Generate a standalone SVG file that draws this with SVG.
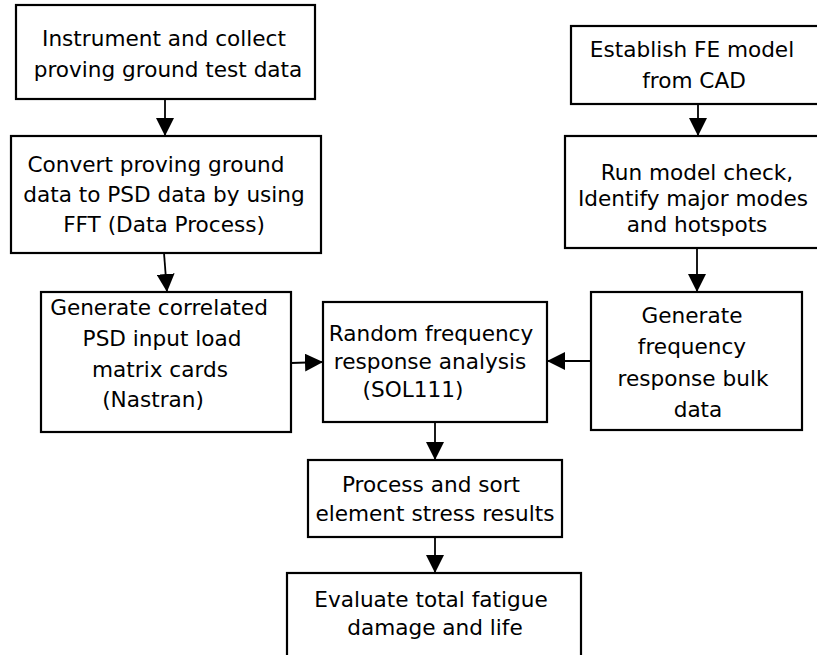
<svg xmlns="http://www.w3.org/2000/svg" width="817" height="655" viewBox="0 0 817 655">
<style>
.box{fill:#fff;stroke:#000;stroke-width:2.2}
.t{font-family:"DejaVu Sans",Verdana,sans-serif;font-size:21.6px;fill:#000;text-anchor:middle}
.c{fill:none;stroke:#000;stroke-width:1.8}
</style>
<defs>
<marker id="ah" markerUnits="userSpaceOnUse" markerWidth="18" markerHeight="18" refX="18" refY="9" orient="auto" viewBox="0 0 18 18">
<path d="M0,0 L18,9 L0,18 Z" fill="#000"/>
</marker>
</defs>
<rect width="817" height="655" fill="#fff"/>
<g id="n1"><rect class="box" x="16" y="5" width="299" height="94"/>
<text class="t" x="164" y="46">Instrument and collect</text>
<text class="t" x="168" y="77">proving ground test data</text></g>
<g id="n2"><rect class="box" x="11" y="136" width="310" height="117"/>
<text class="t" x="156" y="172">Convert proving ground</text>
<text class="t" x="164" y="202">data to PSD data by using</text>
<text class="t" x="164" y="232">FFT (Data Process)</text></g>
<g id="n3"><rect class="box" x="41" y="292" width="250" height="140"/>
<text class="t" x="159" y="315">Generate correlated</text>
<text class="t" x="162" y="346">PSD input load</text>
<text class="t" x="160" y="377">matrix cards</text>
<text class="t" x="153" y="407">(Nastran)</text></g>
<g id="n4"><rect class="box" x="323" y="302" width="224" height="120"/>
<text class="t" x="431" y="341">Random frequency</text>
<text class="t" x="430" y="369">response analysis</text>
<text class="t" x="413" y="397">(SOL111)</text></g>
<g id="n5"><rect class="box" x="591" y="292" width="211" height="138"/>
<text class="t" x="692" y="323">Generate</text>
<text class="t" x="692" y="354">frequency</text>
<text class="t" x="693" y="386">response bulk</text>
<text class="t" x="698" y="417">data</text></g>
<g id="n6"><rect class="box" x="565" y="136" width="270" height="112"/>
<text class="t" x="697" y="180">Run model check,</text>
<text class="t" x="693" y="206">Identify major modes</text>
<text class="t" x="697" y="232">and hotspots</text></g>
<g id="n7"><rect class="box" x="571" y="26" width="264" height="78"/>
<text class="t" x="692" y="57">Establish FE model</text>
<text class="t" x="694" y="88">from CAD</text></g>
<g id="n8"><rect class="box" x="308" y="460" width="254" height="77"/>
<text class="t" x="431" y="492">Process and sort</text>
<text class="t" x="435" y="521">element stress results</text></g>
<g id="n9"><rect class="box" x="287" y="573" width="294" height="100"/>
<text class="t" x="431" y="607">Evaluate total fatigue</text>
<text class="t" x="435" y="635">damage and life</text></g>
<g id="connectors">
<path class="c" d="M165,99 L165,136" marker-end="url(#ah)"/>
<path class="c" d="M164,253 L167,292" marker-end="url(#ah)"/>
<path class="c" d="M291,363 L323,362" marker-end="url(#ah)"/>
<path class="c" d="M591,361 L547,361" marker-end="url(#ah)"/>
<path class="c" d="M698,104 L698,136" marker-end="url(#ah)"/>
<path class="c" d="M697,248 L697,292" marker-end="url(#ah)"/>
<path class="c" d="M435,422 L435,460" marker-end="url(#ah)"/>
<path class="c" d="M435,537 L435,573" marker-end="url(#ah)"/>
</g>
</svg>
